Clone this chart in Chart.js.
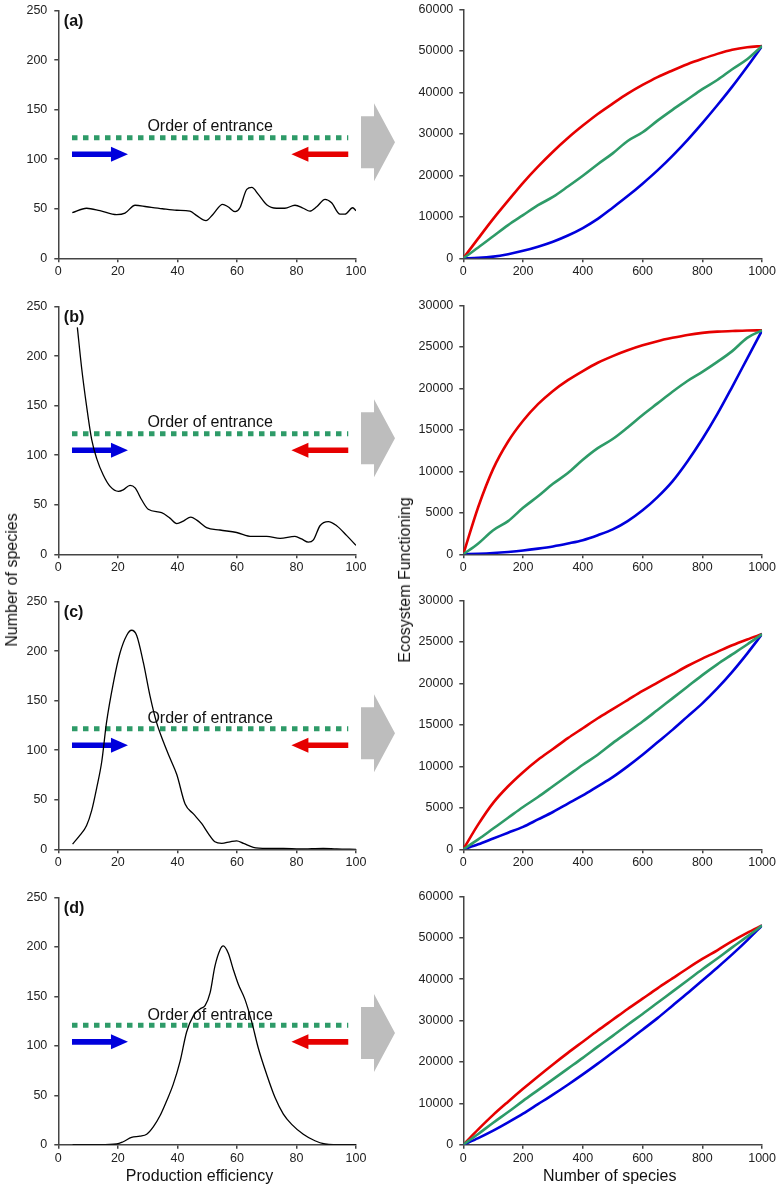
<!DOCTYPE html>
<html>
<head>
<meta charset="utf-8">
<script src="https://cdn.jsdelivr.net/npm/chart.js@4.4.1/dist/chart.umd.min.js"></script>
<style>
  body { margin: 0; background: #fff; width: 778px; height: 1189px; position: relative; overflow: hidden;
         font-family: "Liberation Sans", Arial, sans-serif; }
  canvas { position: absolute; }
  .lbl { position: absolute; font-size: 16px; color: #111; white-space: nowrap; transform: translate(-50%, -50%); }
  .rot { transform: translate(-50%, -50%) rotate(-90deg); }
</style>
</head>
<body>
<script>
// ---- left column: number of species vs production efficiency ----
const aEff = [4.7, 9.5, 14, 19.6, 22.4, 25.8, 29.7, 35, 39.8, 44.2, 46.5, 49.6, 52, 55.2, 57, 59.4, 61, 63.3, 65, 67.2, 70, 73.3, 76.1, 79.5, 82.3, 84.5, 86.8, 89.6, 91.8, 94.6, 96.3, 98.9, 100];
const aCount = [46, 50.5, 48, 44, 45.5, 53.5, 52, 50, 48.5, 47.5, 43, 38, 44.5, 54.5, 52, 47, 51, 69.5, 71.5, 64.5, 54, 50.5, 50.5, 53.5, 50.5, 47.5, 52, 59.5, 56, 44.5, 44.5, 51, 48];

const bEff = [6.4, 7.8, 9.5, 11.2, 12.9, 15.1, 17.4, 20.2, 21.8, 24.1, 25.8, 28, 30.2, 34.7, 37.5, 39.8, 42, 44.5, 46.5, 49.8, 54.3, 59.9, 65, 70, 74.5, 79.5, 81.7, 84, 85.7, 87.9, 90.7, 93.5, 96.9, 100];
const bCount = [229, 189, 149.5, 116, 96.5, 80, 68.5, 63.5, 65, 69.5, 67, 55, 45.5, 42, 36.5, 31, 33.5, 37.5, 34.5, 27, 24.5, 22, 18, 18, 16, 18, 15.5, 12.2, 14.5, 28.8, 33, 28.8, 18.8, 9];

const cEff = [4.8, 7.3, 9.5, 11.2, 12.9, 14.6, 16.2, 18.5, 20.7, 23, 24.6, 26.3, 28.6, 30.8, 33, 35.3, 37.5, 39.8, 42.6, 45.4, 48.2, 50.4, 52.6, 54.9, 57.7, 59.9, 62.2, 65.5, 70, 75.6, 81.2, 89, 93.5, 100];
const cCount = [5.3, 14.2, 24, 39, 62, 88.6, 128, 168, 197.8, 216, 221, 216, 188, 154.8, 128, 108.5, 92, 75.4, 45.6, 35.7, 25.8, 15.9, 7.6, 6, 7.6, 8.6, 6, 2, 1, 1, 0.3, 1, 0.3, 0];

const dEff = [4.8, 14, 19.6, 21.8, 24.6, 27.4, 29.7, 31.9, 34.2, 36.4, 38.6, 40.9, 43.1, 45.4, 47.6, 49.3, 51, 52.6, 54.3, 55.4, 57.1, 58.8, 60.5, 62.7, 65, 67.2, 70, 72.8, 75.6, 78.4, 82.3, 86.2, 89.6, 92.4, 100];
const dCount = [0, 0, 0.7, 3, 7.3, 8.6, 10.6, 18, 29.5, 44.4, 61, 84.2, 114, 130.6, 137.3, 140.6, 153.8, 180.4, 197, 201, 193.6, 177, 162, 147, 124, 97.5, 71, 47.7, 31, 20.6, 10.6, 4, 0.7, 0, 0];

const effTicks = [0, 100, 20];        // min, max, step
const countTicks = [0, 250, 50];

// ---- right column: ecosystem functioning vs number of species ----
const species = [0, 50, 100, 150, 200, 250, 300, 350, 400, 450, 500, 550, 600, 650, 700, 750, 800, 850, 900, 950, 1000];

const aRed   = [0, 4800, 9500, 13900, 18200, 22100, 25700, 29000, 32000, 34800, 37300, 39700, 41800, 43700, 45300, 46800, 48100, 49300, 50300, 50900, 51200];
const aGreen = [0, 2600, 5300, 8000, 10400, 12800, 14800, 17300, 19900, 22700, 25300, 28300, 30400, 33200, 35800, 38300, 40800, 43000, 45600, 48000, 51200];
const aBlue  = [0, 100, 400, 1000, 1800, 2800, 4000, 5500, 7300, 9500, 12200, 15000, 18000, 21200, 24700, 28500, 32600, 36900, 41400, 46200, 51200];

const bRed   = [0, 5700, 10300, 13600, 16100, 18100, 19700, 21000, 22100, 23100, 23900, 24600, 25200, 25700, 26100, 26450, 26700, 26850, 26920, 26980, 27000];
const bGreen = [0, 1300, 2900, 4000, 5600, 7000, 8500, 9800, 11400, 12800, 13900, 15300, 16800, 18200, 19600, 20900, 22000, 23200, 24500, 26100, 27000];
const bBlue  = [0, 60, 150, 280, 450, 680, 950, 1300, 1700, 2300, 3000, 4000, 5300, 6900, 8800, 11200, 13900, 16900, 20200, 23600, 27000];

const cRed   = [0, 3000, 5600, 7600, 9300, 10800, 12100, 13400, 14600, 15800, 16900, 18000, 19100, 20100, 21100, 22100, 23000, 23800, 24600, 25300, 25950];
const cGreen = [0, 1200, 2500, 3800, 5100, 6300, 7600, 8900, 10200, 11400, 12800, 14100, 15400, 16800, 18200, 19600, 21000, 22300, 23500, 24700, 25950];
const cBlue  = [0, 600, 1300, 2000, 2700, 3600, 4500, 5500, 6500, 7600, 8700, 10000, 11400, 12900, 14400, 16000, 17600, 19400, 21400, 23600, 25950];

const dRed   = [0, 3700, 7200, 10400, 13500, 16500, 19400, 22200, 24900, 27600, 30200, 32800, 35300, 37800, 40200, 42600, 44900, 47000, 49200, 51200, 53000];
const dGreen = [0, 2600, 5300, 7900, 10600, 13200, 15800, 18400, 21000, 23700, 26300, 29000, 31600, 34300, 37000, 39700, 42400, 45000, 47700, 50300, 53000];
const dBlue  = [0, 1600, 3400, 5400, 7500, 9800, 12100, 14500, 17000, 19600, 22300, 25000, 27800, 30600, 33600, 36600, 39700, 42800, 46000, 49400, 53000];

const speciesTicks = [0, 1000, 200];
const funcTicks = [[0, 60000, 10000], [0, 30000, 5000], [0, 30000, 5000], [0, 60000, 10000]];

// ---- styling / layout ----
const RED = '#E60000';
const BLUE = '#0000DC';
const GREEN = '#2E9B68';
const AXIS_COLOR = '#444';
const FONT = '"Liberation Sans", Arial, sans-serif';

const rowTop = [6.6, 302.8, 597.5, 893.3];
const rowBottom = [258.3, 554.3, 849.3, 1144.7];
const AXIS_H = 28;

// annotation spots in data units of the left panels
const panelNotes = [
  { letter: '(a)', lineY: 121.5, textY: 128, arrowY: 105, grayY: 117 },
  { letter: '(b)', lineY: 121.5, textY: 128, arrowY: 105, grayY: 117 },
  { letter: '(c)', lineY: 121.5, textY: 127.5, arrowY: 105, grayY: 117 },
  { letter: '(d)', lineY: 120.7, textY: 126, arrowY: 104, grayY: 113 }
];

Chart.defaults.font.family = FONT;
Chart.defaults.color = '#222';

function drawArrow(ctx, x0, x1, y, color) {
  const dir = Math.sign(x1 - x0);
  const hb = x1 - dir * 17;
  ctx.fillStyle = color;
  ctx.beginPath();
  ctx.moveTo(x0, y - 2.8);
  ctx.lineTo(hb, y - 2.8);
  ctx.lineTo(hb, y - 7.5);
  ctx.lineTo(x1, y);
  ctx.lineTo(hb, y + 7.5);
  ctx.lineTo(hb, y + 2.8);
  ctx.lineTo(x0, y + 2.8);
  ctx.closePath();
  ctx.fill();
}

const entrancePlugin = {
  id: 'entrance',
  beforeDatasetsDraw(chart, args, o) {
    const { ctx, chartArea } = chart;
    const xs = chart.scales.x, ys = chart.scales.y;
    ctx.save();
    // dotted "order of entrance" line
    const yLine = ys.getPixelForValue(o.lineY);
    ctx.strokeStyle = GREEN;
    ctx.lineWidth = 5;
    ctx.setLineDash([5.5, 5.5]);
    ctx.beginPath();
    ctx.moveTo(xs.getPixelForValue(4.6), yLine);
    ctx.lineTo(xs.getPixelForValue(97.4), yLine);
    ctx.stroke();
    ctx.setLineDash([]);

    ctx.fillStyle = '#111';
    ctx.font = '16px ' + FONT;
    ctx.textAlign = 'center';
    ctx.textBaseline = 'alphabetic';
    ctx.fillText('Order of entrance', xs.getPixelForValue(51), ys.getPixelForValue(o.textY));

    const yArr = ys.getPixelForValue(o.arrowY);
    drawArrow(ctx, xs.getPixelForValue(4.6), xs.getPixelForValue(23.4), yArr, BLUE);
    drawArrow(ctx, xs.getPixelForValue(97.4), xs.getPixelForValue(78.3), yArr, RED);

    ctx.fillStyle = '#111';
    ctx.font = 'bold 16px ' + FONT;
    ctx.textAlign = 'left';
    ctx.textBaseline = 'middle';
    ctx.fillText(o.letter, chartArea.left + 5.5, chartArea.top + 11.5);
    ctx.restore();
  },
  afterDraw(chart, args, o) {
    // big grey arrow pointing to the right-hand panel
    const { ctx, chartArea } = chart;
    const cy = chart.scales.y.getPixelForValue(o.grayY);
    const x0 = chartArea.right + 5;
    ctx.save();
    ctx.fillStyle = '#BDBDBD';
    ctx.beginPath();
    ctx.moveTo(x0, cy - 26);
    ctx.lineTo(x0 + 13, cy - 26);
    ctx.lineTo(x0 + 13, cy - 39);
    ctx.lineTo(x0 + 34, cy);
    ctx.lineTo(x0 + 13, cy + 39);
    ctx.lineTo(x0 + 13, cy + 26);
    ctx.lineTo(x0, cy + 26);
    ctx.closePath();
    ctx.fill();
    ctx.restore();
  }
};

function addCanvas(left, width, row) {
  const top = Math.floor(rowTop[row]) - 10;
  const h = Math.ceil(rowBottom[row] + AXIS_H - top);
  const c = document.createElement('canvas');
  c.width = width;
  c.height = h;
  c.style.left = left + 'px';
  c.style.top = top + 'px';
  c.style.width = width + 'px';
  c.style.height = h + 'px';
  document.body.appendChild(c);
  return { canvas: c, padTop: rowTop[row] - top, padBottom: h - (rowBottom[row] - top) - AXIS_H };
}

function axis(t, fontSize, pad, fit) {
  return {
    type: 'linear',
    min: t[0],
    max: t[1],
    ticks: { stepSize: t[2], font: { size: fontSize }, color: '#222', padding: pad,
             autoSkip: false, maxRotation: 0, callback: v => String(v) },
    grid: { display: true, drawOnChartArea: false, drawTicks: true, tickLength: 4,
            color: AXIS_COLOR, lineWidth: 1.5 },
    border: { display: true, color: AXIS_COLOR, width: 1.5 },
    afterFit: fit
  };
}

function leftPanel(row, xs, ys) {
  const c = addCanvas(0, 400, row);
  new Chart(c.canvas, {
    type: 'line',
    data: {
      datasets: [{
        data: xs.map((x, i) => ({ x: x, y: ys[i] })),
        borderColor: '#000',
        borderWidth: 1.3,
        pointRadius: 0,
        cubicInterpolationMode: 'monotone',
        fill: false
      }]
    },
    options: {
      responsive: false,
      animation: false,
      devicePixelRatio: 1,
      layout: { padding: { left: 0, right: 44, top: c.padTop, bottom: c.padBottom } },
      plugins: { legend: { display: false }, tooltip: { enabled: false }, entrance: panelNotes[row] },
      scales: {
        x: axis(effTicks, 12.5, 2, s => { s.height = AXIS_H; }),
        y: axis(countTicks, 12.5, 7, s => { s.width = 58.3; })
      }
    },
    plugins: [entrancePlugin]
  });
}

function rightPanel(row, red, green, blue) {
  const c = addCanvas(400, 378, row);
  const line = (vals, color) => ({
    data: species.map((x, i) => ({ x: x, y: vals[i] })),
    borderColor: color,
    borderWidth: 2.6,
    pointRadius: 0,
    cubicInterpolationMode: 'monotone',
    fill: false
  });
  new Chart(c.canvas, {
    type: 'line',
    data: { datasets: [line(green, GREEN), line(blue, BLUE), line(red, RED)] },
    options: {
      responsive: false,
      animation: false,
      devicePixelRatio: 1,
      layout: { padding: { left: 0, right: 15.3, top: c.padTop, bottom: c.padBottom } },
      plugins: { legend: { display: false }, tooltip: { enabled: false } },
      scales: {
        x: axis(speciesTicks, 12.5, 2, s => { s.height = AXIS_H; }),
        y: axis(funcTicks[row], 12.5, 6, s => { s.width = 63.3; })
      }
    }
  });
}

leftPanel(0, aEff, aCount);
leftPanel(1, bEff, bCount);
leftPanel(2, cEff, cCount);
leftPanel(3, dEff, dCount);

rightPanel(0, aRed, aGreen, aBlue);
rightPanel(1, bRed, bGreen, bBlue);
rightPanel(2, cRed, cGreen, cBlue);
rightPanel(3, dRed, dGreen, dBlue);
</script>
<div class="lbl rot" style="left:12px; top:580px;">Number of species</div>
<div class="lbl rot" style="left:405px; top:580px;">Ecosystem Functioning</div>
<div class="lbl" style="left:199.5px; top:1176px;">Production efficiency</div>
<div class="lbl" style="left:609.7px; top:1176px;">Number of species</div>
</body>
</html>
